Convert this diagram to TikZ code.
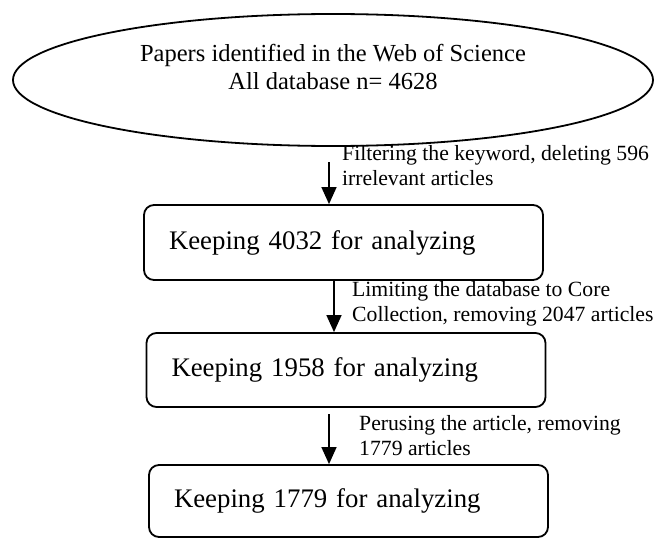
\documentclass[tikz,border=0pt]{standalone}
\usepackage{fontspec}
\setmainfont{Liberation Serif}
\usetikzlibrary{shapes.geometric,arrows.meta}
\begin{document}
\begin{tikzpicture}[
	x=1pt, y=-1pt,
	ellnode/.style={shape=ellipse, draw=black, line width=1.8pt, minimum width=640pt, minimum height=132pt, inner sep=0pt},
	keepbox/.style={shape=rectangle, draw=black, line width=1.8pt, rounded corners=10pt, minimum height=75pt, text width=349pt, inner xsep=25pt, align=left, font=\fontsize{26.8}{30}\selectfont},
	steplabel/.style={anchor=north west, align=left, inner sep=0pt, font=\fontsize{21.7}{25}\selectfont},
	arrowline/.style={line width=1.4pt, -{Triangle[length=17pt,width=15pt]}},
]
\useasboundingbox (0,0) rectangle (657,538);

% start of the flow
\node[ellnode] (papers) at (333,80) {};
\node[align=center, font=\fontsize{24.5}{28}\selectfont] (paperstext) at (333,67) {Papers identified in the Web of Science\\All database n= 4628};

% the three kept sets
\node[keepbox] (keep1) at (343.5,242.5) {Keeping 4032 for analyzing};
\node[keepbox, minimum height=74pt] (keep2) at (346,370) {Keeping 1958 for analyzing};
\node[keepbox, minimum height=72pt] (keep3) at (348.5,501) {Keeping 1779 for analyzing};

% arrows
\coordinate (s1) at (329,162);
\coordinate (s2) at (334,281);
\coordinate (s3) at (329,414);
\draw[arrowline] (s1) -- (s1 |- keep1.north);
\draw[arrowline] (s2) -- (s2 |- keep2.north);
\draw[arrowline] (s3) -- (s3 |- keep3.north);

% what was removed
\node[steplabel] (step1) at (342,145) {Filtering the keyword, deleting 596\\irrelevant articles};
\node[steplabel] (step2) at (352,281) {Limiting the database to Core\\Collection, removing 2047 articles};
\node[steplabel] (step3) at (359,415) {Perusing the article, removing\\1779 articles};
\end{tikzpicture}
\end{document}
